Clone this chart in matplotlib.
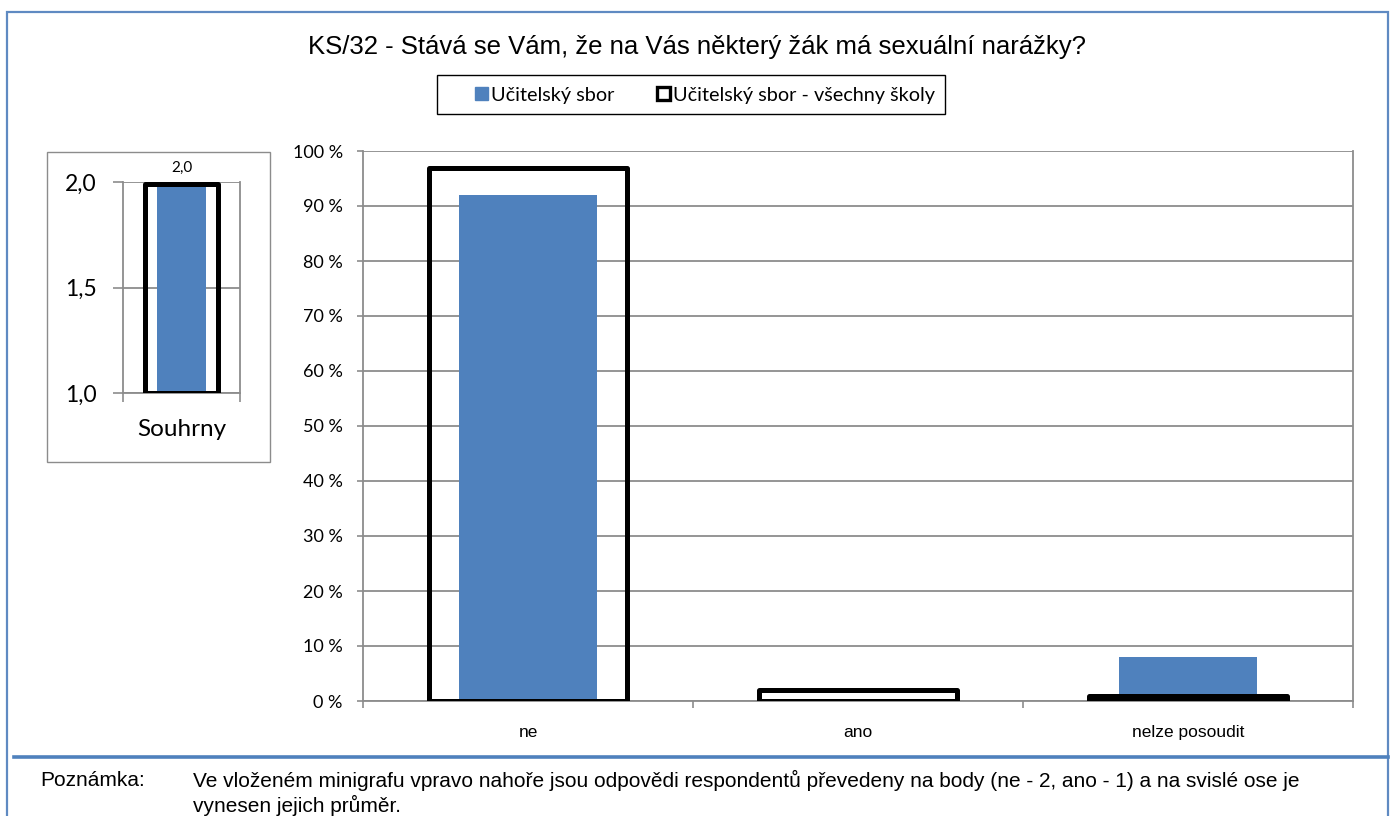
import matplotlib
matplotlib.use("Agg")
import matplotlib.pyplot as plt
from matplotlib.patches import Rectangle, Patch
from matplotlib.lines import Line2D
from matplotlib.ticker import FuncFormatter

# --- data ---
categories = ["ne", "ano", "nelze posoudit"]
school_pct = [92, 0, 8]
all_schools_pct = [97, 2, 1]

summary_cat = ["Souhrny"]
summary_school = [2.0]
summary_all = [1.99]

series_names = ["Učitelský sbor", "Učitelský sbor - všechny školy"]
title = "KS/32 - Stává se Vám, že na Vás některý žák má sexuální narážky?"
note_head = "Poznámka:"
note_lines = ["Ve vloženém minigrafu vpravo nahoře jsou odpovědi respondentů převedeny na body (ne - 2, ano - 1) a na svislé ose je",
              "vynesen jejich průměr."]

BLUE = "#4F81BD"
GRID = "#8C8C8C"
W, H = 1391, 816
ARIAL = "Liberation Sans"
CALIBRI = "Lato"

fig = plt.figure(figsize=(W / 100, H / 100), dpi=100)


def fx(px):
    return px / W


def fy(py):
    return 1 - py / H


# outer frame (runs past the bottom edge) and separator above the note
fig.add_artist(Rectangle((fx(7), fy(840)), fx(1388) - fx(7), fy(12) - fy(840),
                         transform=fig.transFigure, fill=False, edgecolor="#5F8AC2", lw=1.6,
                         clip_on=False))
fig.add_artist(Line2D([fx(14), fx(1388)], [fy(757), fy(757)], transform=fig.transFigure,
                      color=BLUE, lw=2.6))

# title
fig.text(fx(697), fy(47), title, family=ARIAL, fontsize=18.5, ha="center", va="center")

# legend: frame drawn separately, entries placed inside it
fig.add_artist(Rectangle((fx(437), fy(114)), fx(945) - fx(437), fy(75) - fy(114),
                         transform=fig.transFigure, fill=False, edgecolor="black", lw=1.0))
handles = [Patch(facecolor=BLUE, edgecolor=BLUE),
           Patch(facecolor="white", edgecolor="black", lw=2.4, joinstyle="round")]
fig.legend(handles, series_names, loc="center", bbox_to_anchor=(fx(705), fy(95)),
           ncol=2, frameon=False, prop={"family": CALIBRI, "size": 14.3},
           handlelength=0.66, handleheight=0.66, handletextpad=0.15,
           columnspacing=2.1, borderpad=0, borderaxespad=0)

# main chart
ax = fig.add_axes([fx(363), fy(701), fx(1353) - fx(363), fy(151) - fy(701)])
x = list(range(len(categories)))
ax.bar(x, school_pct, width=0.42, color=BLUE, zorder=2)
ax.bar(x, all_schools_pct, width=0.6, facecolor="none", edgecolor="black", lw=3.6,
       joinstyle="round", zorder=3)
ax.set_xlim(-0.5, len(categories) - 0.5)
ax.set_ylim(0, 100)
ax.set_yticks(range(0, 101, 10))
ax.yaxis.set_major_formatter(FuncFormatter(lambda v, p: f"{int(v)} %"))
ax.set_xticks(x)
ax.set_xticklabels(categories, family=ARIAL, fontsize=12.5)
ax.set_xticks([i - 0.5 for i in range(len(categories) + 1)], minor=True)
ax.tick_params(axis="x", which="major", length=0, pad=17)
ax.tick_params(axis="x", which="minor", length=5, width=1.2, color=GRID, direction="out")
ax.tick_params(axis="y", length=4.5, width=1.2, color=GRID, direction="out", pad=10)
for lbl in ax.get_yticklabels():
    lbl.set_family(CALIBRI)
    lbl.set_fontsize(13)
ax.yaxis.grid(True, color=GRID, lw=1.3, zorder=0)
ax.set_axisbelow(True)
for s in ax.spines.values():
    s.set_color(GRID)
    s.set_linewidth(1.3)
ax.spines["top"].set_visible(False)

# inset summary chart
fig.add_artist(Rectangle((fx(47), fy(462)), fx(270) - fx(47), fy(152) - fy(462),
                         transform=fig.transFigure, fill=False, edgecolor="#8C8C8C", lw=1.0))
ins = fig.add_axes([fx(123), fy(393), fx(240) - fx(123), fy(182) - fy(393)])
ins.bar([0], [v - 1.0 for v in summary_school], bottom=1.0, width=0.42, color=BLUE, zorder=2)
ins.bar([0], [v - 1.0 for v in summary_all], bottom=1.0, width=0.62, facecolor="none",
        edgecolor="black", lw=3.6, joinstyle="round", zorder=3)
for v in summary_school:
    ins.text(0, v + 0.035, f"{v:.1f}".replace(".", ","), ha="center", va="bottom",
             family=CALIBRI, fontsize=11)
ins.set_xlim(-0.5, 0.5)
ins.set_ylim(1.0, 2.0)
ins.set_yticks([1.0, 1.5, 2.0])
ins.yaxis.set_major_formatter(FuncFormatter(lambda v, p: f"{v:.1f}".replace(".", ",")))
ins.set_xticks([0])
ins.set_xticklabels(summary_cat, family=CALIBRI, fontsize=17.5)
ins.set_xticks([-0.5, 0.5], minor=True)
ins.tick_params(axis="x", which="major", length=0, pad=19)
ins.tick_params(axis="x", which="minor", length=6.5, width=1.2, color=GRID, direction="out")
ins.tick_params(axis="y", length=7, width=1.2, color=GRID, direction="out", pad=12)
for lbl in ins.get_yticklabels():
    lbl.set_family(CALIBRI)
    lbl.set_fontsize(16.5)
ins.yaxis.grid(True, color=GRID, lw=1.3, zorder=0)
ins.set_axisbelow(True)
for s in ins.spines.values():
    s.set_color(GRID)
    s.set_linewidth(1.3)
ins.spines["top"].set_visible(False)

# note
fig.text(fx(40), fy(780), note_head, family=ARIAL, fontsize=15, ha="left", va="center")
for i, line in enumerate(note_lines):
    fig.text(fx(193), fy(780 + 25 * i), line, family=ARIAL, fontsize=15, ha="left", va="center")

fig.savefig("out.png", dpi=100)
